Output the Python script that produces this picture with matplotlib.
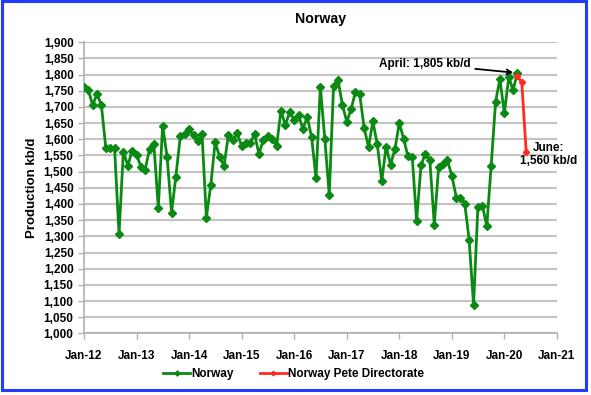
import matplotlib
matplotlib.use("Agg")
import matplotlib.pyplot as plt
import matplotlib.dates as mdates
import pandas as pd
from matplotlib.patches import Rectangle

plt.rcParams['font.family'] = ['Liberation Sans', 'DejaVu Sans']
plt.rcParams['font.weight'] = 'bold'

# Data
norway_dates = pd.date_range("2012-01-01", "2020-04-01", freq="MS")
norway = [
    1761, 1753, 1706, 1739, 1707, 1574, 1572, 1572, 1307, 1562, 1518, 1565,
    1551, 1515, 1505, 1570, 1585, 1389, 1642, 1546, 1373, 1485, 1610, 1617,
    1631, 1612, 1596, 1615, 1358, 1460, 1591, 1546, 1518, 1614, 1598, 1618,
    1580, 1590, 1588, 1616, 1555, 1598, 1611, 1600, 1579, 1688, 1644, 1685,
    1660, 1676, 1632, 1668, 1608, 1480, 1763, 1602, 1428, 1766, 1784, 1707,
    1654, 1695, 1745, 1739, 1636, 1576, 1656, 1584, 1471, 1577, 1522, 1569,
    1651, 1600, 1549, 1545, 1348, 1520, 1556, 1536, 1336, 1513, 1525, 1535,
    1488, 1420, 1420, 1400, 1290, 1088, 1390, 1395, 1332, 1516, 1716, 1786,
    1681, 1793, 1752, 1805,
]
npd_dates = pd.date_range("2020-04-01", "2020-06-01", freq="MS")
npd = [1795, 1776, 1560]

fig = plt.figure(figsize=(5.91, 3.95), dpi=100)
ax = fig.add_axes([0.142, 0.156, 0.8005, 0.737])

green = '#0a8a12'
red = '#ff2a20'
ax.plot(norway_dates, norway, color=green, lw=2, marker='D', ms=3.8,
        label='Norway', zorder=3)
ax.plot(npd_dates, npd, color=red, lw=2, marker='D', ms=3.2,
        label='Norway Pete Directorate', zorder=4)

ax.set_ylim(1000, 1900)
ax.set_yticks(range(1000, 1901, 50))
ax.yaxis.set_major_formatter(matplotlib.ticker.FuncFormatter(lambda v, p: f"{int(v):,}"))
ax.set_xlim(pd.Timestamp("2012-01-01"), pd.Timestamp("2021-01-01"))
ax.set_xticks(pd.date_range("2012-01-01", "2021-01-01", freq="YS"))
ax.xaxis.set_major_formatter(mdates.DateFormatter("%b-%y"))

ax.grid(axis='y', color='#c4c4c4', lw=1.6)
ax.set_axisbelow(True)
for s in ['top', 'right']:
    ax.spines[s].set_visible(False)
for s in ['left', 'bottom']:
    ax.spines[s].set_color('#b0b0b0')
    ax.spines[s].set_linewidth(1.2)
ax.tick_params(axis='both', colors='#b0b0b0', labelcolor='black',
               labelsize=8.5, length=4, width=1)
ax.tick_params(axis='x', pad=8)
for lab in ax.get_xticklabels() + ax.get_yticklabels():
    lab.set_fontweight('bold')

ax.set_ylabel("Production kb/d", fontsize=9.5, fontweight='bold', labelpad=4)
ax.set_title("Norway", fontsize=10.2, fontweight='bold', pad=14)

ax.annotate("April: 1,805 kb/d", xy=(pd.Timestamp("2020-04-01"), 1805),
            xytext=(pd.Timestamp("2019-05-15"), 1833),
            ha='right', va='center', fontsize=8.5, fontweight='bold',
            arrowprops=dict(arrowstyle='->', color='black', lw=1.3,
                            shrinkA=1, shrinkB=3))
ax.text(pd.Timestamp("2020-11-05"), 1552, "June:\n1,560 kb/d", ha='center',
        va='center', fontsize=8.5, fontweight='bold', linespacing=1.1)

leg = fig.legend(loc='center', bbox_to_anchor=(0.497, 0.053), ncol=2,
                 frameon=False, fontsize=8.5, handlelength=2.3,
                 columnspacing=2.2, handletextpad=0.1, markerscale=0.7)
for t in leg.get_texts():
    t.set_fontweight('bold')

fig.patches.append(Rectangle((0.004, 0.013), 0.988, 0.984, transform=fig.transFigure,
                             fill=False, edgecolor='#1f3cff', lw=2.2))

fig.savefig("out.png", dpi=100)
